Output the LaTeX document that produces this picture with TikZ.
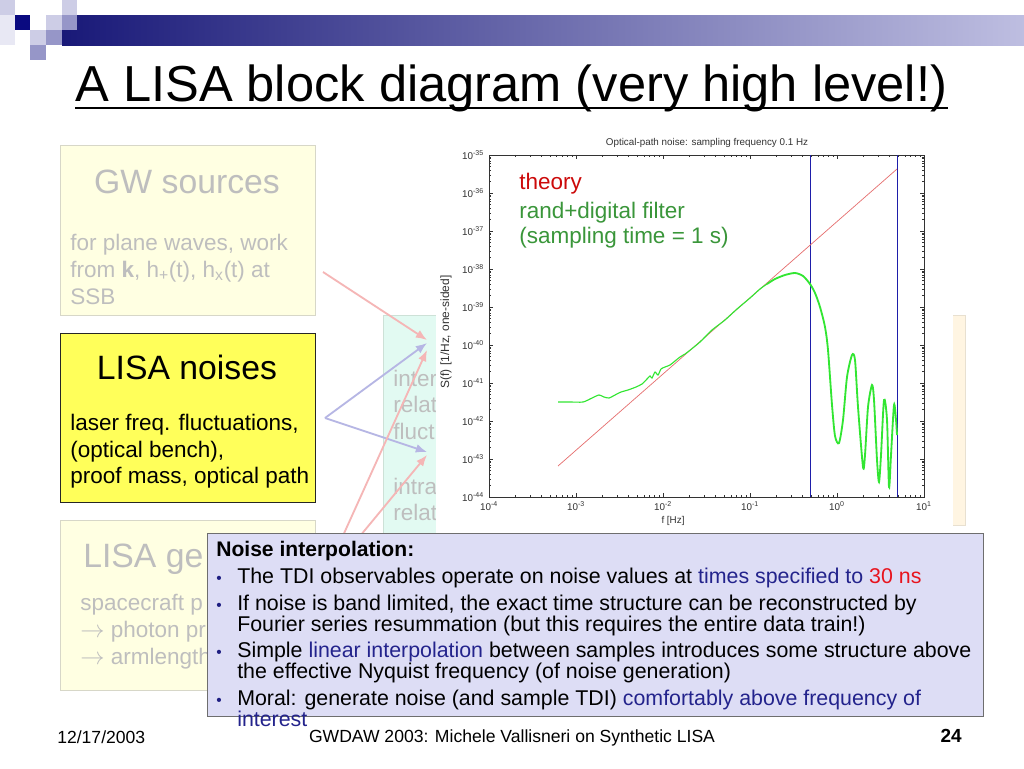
\documentclass[tikz,border=0pt]{standalone}
\usepackage{fontspec}
\setmainfont{Liberation Sans}
\usetikzlibrary{arrows.meta}
\definecolor{barL}{RGB}{25,25,120}
\definecolor{barR}{RGB}{190,190,225}
\definecolor{sqnavy}{RGB}{10,10,128}
\definecolor{sqlight}{RGB}{205,205,230}
\definecolor{sqmed}{RGB}{150,150,200}
\definecolor{sqpale}{RGB}{232,232,244}
\definecolor{fadeyellow}{RGB}{255,255,226}
\definecolor{fadeborder}{RGB}{215,215,200}
\definecolor{fadegray}{RGB}{190,190,190}
\definecolor{noiseyellow}{RGB}{255,255,90}
\definecolor{mint}{RGB}{226,250,242}
\definecolor{mintborder}{RGB}{205,225,215}
\definecolor{beige}{RGB}{255,245,226}
\definecolor{beigeborder}{RGB}{232,224,208}
\definecolor{pinkc}{RGB}{245,182,182}
\definecolor{lavc}{RGB}{182,182,228}
\definecolor{theoryred}{RGB}{230,110,110}
\definecolor{curvegreen}{RGB}{50,230,50}
\definecolor{legred}{RGB}{204,10,10}
\definecolor{leggreen}{RGB}{58,150,58}
\definecolor{plotnavy}{RGB}{30,30,170}
\definecolor{boxlav}{RGB}{221,221,245}
\definecolor{boxborder}{RGB}{110,110,110}
\definecolor{navytext}{RGB}{35,35,140}
\definecolor{redtext}{RGB}{232,20,30}
\definecolor{bulletblue}{RGB}{30,30,130}
\newcommand\fsz[2]{\fontsize{#1}{#2}\selectfont}
\begin{document}
\begin{tikzpicture}[x=0.25mm,y=-0.25mm,
  fadebox/.style={draw=fadeborder, fill=fadeyellow, line width=0.6pt, anchor=north west, inner sep=0, minimum width=63.75mm},
  fadetitle/.style={text=fadegray, anchor=base, inner sep=0, font=\fsz{24}{28}},
  fadetxt/.style={text=fadegray, anchor=base west, inner sep=0, font=\fsz{16}{19}},
  blacktitle/.style={anchor=base, inner sep=0, font=\fsz{24}{28}},
  blacktxt/.style={anchor=base west, inner sep=0, font=\fsz{16}{19}},
  pinkarrow/.style={draw=pinkc, line width=1.3pt, -{Latex[length=2.8mm,width=2.2mm]}},
  lavarrow/.style={draw=lavc, line width=1.3pt, -{Latex[length=2.8mm,width=2.2mm]}},
  tick/.style={line width=0.3pt, draw=black!80},
  ticklab/.style={inner sep=0, font=\fsz{7}{8}, text=black!80},
  itm/.style={anchor=base west, inner sep=0, font=\fsz{15.2}{17}},
  bul/.style={anchor=base, inner sep=0, text=bulletblue, font=\fsz{11}{12}},
  foot/.style={inner sep=0, font=\fsz{12.5}{15}}
]
\useasboundingbox (0,0) rectangle (1024,768);
\fill[white] (0,0) rectangle (1024,768);

% top decoration
\fill[sqpale] (0,0) rectangle (15,45);
\fill[sqlight] (0,0) rectangle (15,15);
\fill[sqlight] (62,0) rectangle (77,15);
\shade[left color=barL, right color=barR] (62,15) rectangle (1024,45);
\fill[sqnavy] (15,15) rectangle (30,30);
\fill[sqlight] (46,15) rectangle (62,30);
\fill[sqmed] (62,15) rectangle (77,30);
\fill[sqlight] (30,30) rectangle (46,45);
\fill[sqmed] (46,30) rectangle (62,45);
\fill[sqmed] (30,45) rectangle (46,60);

% title
\node[anchor=base west, inner sep=0, font=\fsz{36}{42}] (title) at (75,101) {A LISA block diagram (very high level!)};
\draw[line width=1.5pt] ([yshift=-1.8mm]title.base west) -- ([yshift=-1.8mm]title.base east);

% GW sources (faded)
\node[fadebox, minimum height=42.5mm] (gw) at (60,145) {};
\node[fadetitle] (gwt) at (187,193) {GW sources};
\node[fadetxt] (gw1) at (70,250) {for plane waves, work};
\node[fadetxt] (gw2) at (70,277) {from \textbf{k}, h\textsubscript{+}(t), h\textsubscript{x}(t) at};
\node[fadetxt] (gw3) at (70,304) {SSB};

% LISA noises
\node[draw=black!85, fill=noiseyellow, line width=0.8pt, anchor=north west, inner sep=0, minimum width=63.75mm, minimum height=42.25mm] (noise) at (60,333) {};
\node[blacktitle] (nt) at (187,379) {LISA noises};
\node[blacktxt] (n1) at (70,430) {laser freq. fluctuations,};
\node[blacktxt] (n2) at (70,457) {(optical bench),};
\node[blacktxt] (n3) at (70,483) {proof mass, optical path};

% LISA geometry (faded, mostly hidden)
\node[fadebox, minimum height=42.5mm] (geo) at (60,520) {};
\begin{scope}
\clip (60,520) rectangle (207,690);
\node[fadetitle, anchor=base west] (geot) at (83,567) {LISA ge};
\node[fadetxt] (geo1) at (80,610) {spacecraft p};
\node[fadetxt] (geo2) at (80,637) {$\rightarrow$ photon pr};
\node[fadetxt] (geo3) at (80,664) {$\rightarrow$ armlength};
\end{scope}

% middle faded box
\node[draw=mintborder, fill=mint, line width=0.6pt, anchor=north west, inner sep=0, minimum width=54.25mm, minimum height=61.25mm] (mid) at (383,315) {};
\begin{scope}
\clip (383,315) rectangle (436,533);
\node[fadetxt] (m1) at (393,386) {inter};
\node[fadetxt] (m2) at (393,412) {relat};
\node[fadetxt] (m3) at (393,439) {fluct};
\node[fadetxt] (m4) at (393,494) {intra};
\node[fadetxt] (m5) at (393,520) {relat};
\end{scope}

% right faded box
\node[draw=beigeborder, fill=beige, line width=0.6pt, anchor=north west, inner sep=0, minimum width=41.25mm, minimum height=52.5mm] (rbox) at (800,315) {};

% connectors
\coordinate (gwout) at (323,272);
\coordinate (noiseout) at (325,418);
\coordinate (geoout) at (322,582);
\coordinate (in1) at (427,340);
\coordinate (in2) at (427,343);
\coordinate (in3) at (427,350);
\coordinate (in4) at (427,452);
\coordinate (in5) at (427,455);
\draw[pinkarrow] (gwout) -- (in1);
\draw[lavarrow] (noiseout) -- (in2);
\draw[lavarrow] (noiseout) -- (in4);
\draw[pinkarrow] (geoout) -- (in3);
\draw[pinkarrow] (geoout) -- (in5);

% plot background
\node[fill=white, anchor=north west, inner sep=0, minimum width=129.25mm, minimum height=100.75mm] (plotbg) at (436,130) {};

% plot axes
\begin{scope}[shift={(489,497)}, x=21.75mm, y=9.5mm]
  \draw[line width=0.4pt, draw=black!80] (0,0) rectangle (5,9);
  \foreach \d in {0,...,4} {
    \foreach \k in {2,...,9} {
      \draw[tick] ({\d+log10(\k)},0) -- ++(0,0.45mm);
      \draw[tick] ({\d+log10(\k)},9) -- ++(0,-0.45mm);
    }
    \draw[tick] (\d,0) -- ++(0,0.9mm);
    \draw[tick] (\d,9) -- ++(0,-0.9mm);
  }
  \foreach \d in {0,...,8} {
    \foreach \k in {2,...,9} {
      \draw[tick] (0,{\d+log10(\k)}) -- ++(0.45mm,0);
      \draw[tick] (5,{\d+log10(\k)}) -- ++(-0.45mm,0);
    }
    \draw[tick] (0,\d) -- ++(0.9mm,0);
    \draw[tick] (5,\d) -- ++(-0.9mm,0);
  }
  \foreach \d [evaluate=\d as \e using int(\d-44)] in {0,...,9}
    \node[ticklab, anchor=east] (yl\d) at ([xshift=-1.2mm]0,\d) {10\textsuperscript{\e}};
  \foreach \d [evaluate=\d as \e using int(\d-4)] in {0,...,5}
    \node[ticklab, anchor=north] (xl\d) at ([yshift=-1mm]\d,0) {10\textsuperscript{\e}};
  \draw[plotnavy, line width=0.6pt] (3.699,0) -- (3.699,9);
  \draw[plotnavy, line width=0.6pt] (4.699,0) -- (4.699,9);
\end{scope}

\node[inner sep=0, font=\fsz{7}{8}, text=black!80] (ptitle) at (707,143) {Optical-path noise: sampling frequency 0.1 Hz};
\node[inner sep=0, font=\fsz{8.5}{9}, text=black!80, rotate=90] (ylab) at (446,332) {S(f) [1/Hz, one-sided]};
\node[inner sep=0, font=\fsz{7}{8}, text=black!80] (xlab) at (673,521) {f [Hz]};

% theory
\draw[theoryred, line width=0.5pt] (558,466) -- (897,169);
% simulated
\draw[curvegreen, line width=0.8pt] plot[smooth, tension=0.4] coordinates {
 (558,402) (570,402) (583,402) (592,398) (599,395) (604,397) (609,398) (615,395)
 (621,392) (628,390) (636,387) (642,384) (647,379) (650,376) (652,378) (655,372)
 (658,375) (661,369) (665,367) (670,365) (675,361) (680,357) (685,354) (689,351)
 (700,342) (712,330) (725,320) (737,309) (750,298) (760,289) (767,284) };
\draw[curvegreen, line width=1.3pt] plot[smooth, tension=0.45] coordinates {
 (767,284) (775,279) (785,275) (795,273) (803,276) (810,284) (815,293) (820,307)
 (825,327) (828,350) (832,405) (835,436) (839,443) (843,420) (847,377) (852,355)
 (855,360) (858,407) (863,467) (865,455) (868,407) (872,385) (874,400) (877,460)
 (879,482) (881,455) (884,400) (887,420) (889,487) (891,455) (894,405) (896,420) (897,435) };

% legend
\node[anchor=base west, inner sep=0, font=\fsz{16}{19}, text=legred] (lg1) at (519,189) {theory};
\node[anchor=base west, inner sep=0, font=\fsz{16}{19}, text=leggreen] (lg2) at (519,218) {rand+digital filter};
\node[anchor=base west, inner sep=0, font=\fsz{16}{19}, text=leggreen] (lg3) at (519,243) {(sampling time = 1 s)};

% interpolation box
\node[draw=boxborder, fill=boxlav, line width=0.8pt, anchor=north west, inner sep=0, minimum width=194mm, minimum height=45.75mm] (interp) at (207,533) {};
\node[anchor=base west, inner sep=0, font=\fsz{15}{17}\bfseries] (ih) at (216,556) {Noise interpolation:};
\node[bul] (b1) at (219,583) {•};
\node[itm] (i1) at (237,583) {The TDI observables operate on noise values at \textcolor{navytext}{times specified to} \textcolor{redtext}{30 ns}};
\node[bul] (b2) at (219,610) {•};
\node[itm] (i2) at (237,610) {If noise is band limited, the exact time structure can be reconstructed by};
\node[itm] (i2b) at (237,631) {Fourier series resummation (but this requires the entire data train!)};
\node[bul] (b3) at (219,657) {•};
\node[itm] (i3) at (237,657) {Simple \textcolor{navytext}{linear interpolation} between samples introduces some structure above};
\node[itm] (i3b) at (237,678) {the effective Nyquist frequency (of noise generation)};
\node[bul] (b4) at (219,705) {•};
\node[itm] (i4) at (237,705) {Moral: generate noise (and sample TDI) \textcolor{navytext}{comfortably above frequency of}};
\node[itm, text=navytext] (i4b) at (237,726) {interest};

% footer
\node[foot, anchor=base west] (date) at (57,743) {12/17/2003};
\node[foot, anchor=base] (conf) at (512,742) {GWDAW 2003: Michele Vallisneri on Synthetic LISA};
\node[foot, anchor=base east, font=\fsz{13.5}{16}\bfseries] (page) at (962,742) {24};
\end{tikzpicture}
\end{document}
